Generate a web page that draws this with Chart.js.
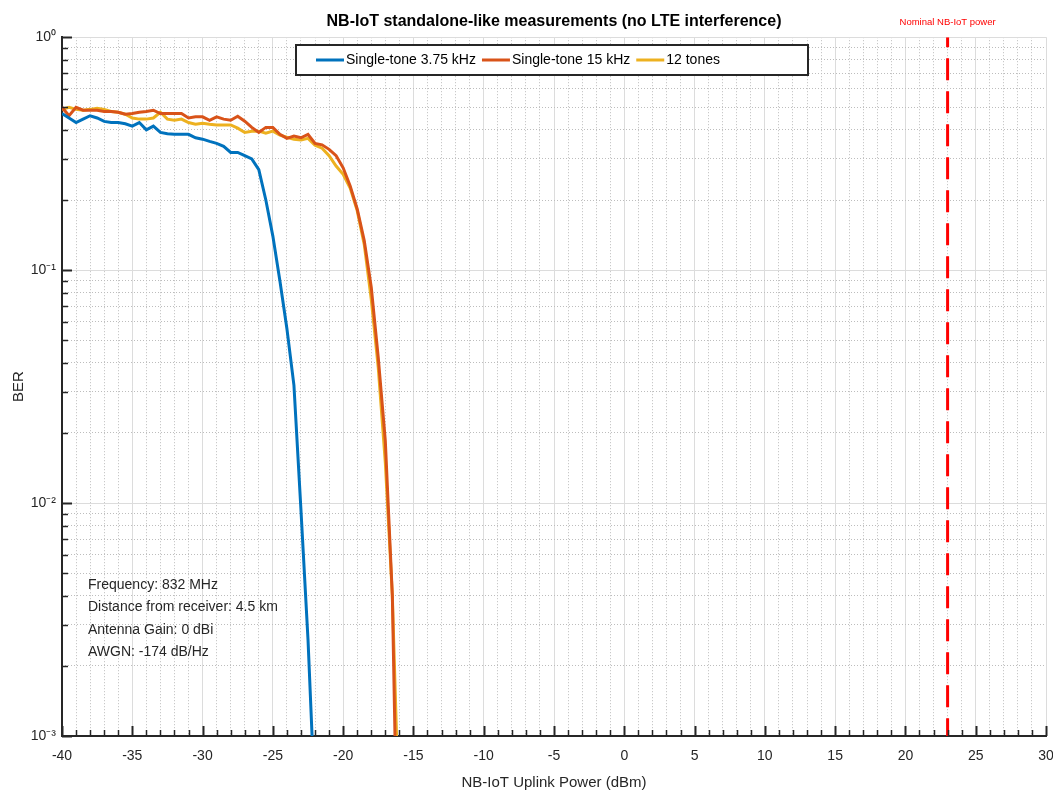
<!DOCTYPE html>
<html><head><meta charset="utf-8">
<script src="https://cdn.jsdelivr.net/npm/chart.js@4/dist/chart.umd.min.js"></script>
<style>html,body{margin:0;padding:0;background:#fff}</style>
</head><body>
<canvas id="c" width="1053" height="792"></canvas>
<script>
// ---- data ----
const titleText = 'NB-IoT standalone-like measurements (no LTE interference)';
const xTitle = 'NB-IoT Uplink Power (dBm)';
const yTitle = 'BER';
const seriesNames = ['Single-tone 3.75 kHz', 'Single-tone 15 kHz', '12 tones'];
const seriesColors = ['#0072BD', '#D95319', '#EDB120'];
const powerDbm = [-40,-39.5,-39,-38.5,-38,-37.5,-37,-36.5,-36,-35.5,-35,-34.5,-34,-33.5,-33,-32.5,-32,-31.5,-31,-30.5,-30,-29.5,-29,-28.5,-28,-27.5,-27,-26.5,-26,-25.5,-25,-24.5,-24,-23.5,-23,-22.5,-22,-21.5,-21,-20.5,-20,-19.5,-19,-18.5,-18,-17.5,-17,-16.5,-16];
const berTone375 = [0.47,0.45,0.43,0.445,0.46,0.45,0.435,0.43,0.43,0.425,0.415,0.43,0.40,0.415,0.39,0.385,0.383,0.383,0.383,0.37,0.365,0.357,0.35,0.34,0.32,0.32,0.31,0.30,0.27,0.20,0.14,0.09,0.056,0.032,0.0093,0.0026,0.0005,null,null,null,null,null,null,null,null,null,null,null,null];
const berTone15 = [0.50,0.46,0.50,0.486,0.486,0.486,0.48,0.48,0.476,0.467,0.47,0.476,0.48,0.486,0.47,0.47,0.47,0.47,0.45,0.455,0.455,0.44,0.455,0.445,0.44,0.458,0.436,0.41,0.39,0.41,0.41,0.383,0.368,0.376,0.37,0.383,0.35,0.345,0.33,0.31,0.275,0.23,0.183,0.134,0.0845,0.042,0.0185,0.004,0.0001];
const ber12Tones = [0.49,0.50,0.49,0.486,0.49,0.495,0.49,0.48,0.476,0.467,0.45,0.445,0.445,0.45,0.476,0.445,0.44,0.445,0.43,0.423,0.427,0.423,0.42,0.42,0.42,0.407,0.39,0.395,0.395,0.387,0.395,0.38,0.372,0.365,0.362,0.368,0.344,0.334,0.31,0.28,0.258,0.225,0.18,0.129,0.075,0.038,0.0149,0.004,0.0004];
const nominalPowerDbm = 23;
const nominalLabel = 'Nominal NB-IoT power';
const xMajorStep = 5, xMinorStep = 1;
const yMajorTicks = [0.001, 0.01, 0.1, 1];
const yTickLabels = ['10\u207B\u00B3', '10\u207B\u00B2', '10\u207B\u00B9', '10\u2070'];
const yMinorTicks = [0.002,0.003,0.004,0.005,0.006,0.007,0.008,0.009,0.02,0.03,0.04,0.05,0.06,0.07,0.08,0.09,0.2,0.3,0.4,0.5,0.6,0.7,0.8,0.9];
const infoLines = ['Frequency: 832 MHz', 'Distance from receiver: 4.5 km', 'Antenna Gain: 0 dBi', 'AWGN: -174 dB/Hz'];

// ---- chart ----
const FONT = "'Liberation Sans',Arial,sans-serif";
const TXT = '#262626';
const pts = vals => powerDbm.map((x, i) => ({x, y: vals[i]}));
const seriesData = [berTone375, berTone15, ber12Tones];

const decor = {
  id: 'decor',
  afterDraw(chart) {
    const c = chart.ctx, ca = chart.chartArea;
    const xs = chart.scales.x, ys = chart.scales.y;
    c.save();
    // inward tick marks
    c.strokeStyle = TXT;
    for (let v = xs.min; v <= xs.max + 1e-9; v += xMinorStep) {
      const px = Math.round(xs.getPixelForValue(v)) + 0.5;
      const major = Math.abs(v % xMajorStep) < 1e-9;
      c.lineWidth = major ? 2 : 1.5;
      c.beginPath(); c.moveTo(px, ca.bottom); c.lineTo(px, ca.bottom - (major ? 10 : 6)); c.stroke();
    }
    yMajorTicks.concat(yMinorTicks).forEach(v => {
      const py = Math.round(ys.getPixelForValue(v)) + 0.5;
      const major = yMajorTicks.includes(v);
      c.lineWidth = major ? 2 : 1.5;
      c.beginPath(); c.moveTo(ca.left, py); c.lineTo(ca.left + (major ? 10 : 6), py); c.stroke();
    });
    // nominal label
    c.fillStyle = '#FF0000';
    c.font = '9.5px ' + FONT;
    c.textAlign = 'center'; c.textBaseline = 'middle';
    c.fillText(nominalLabel, xs.getPixelForValue(nominalPowerDbm), 22);
    // info text
    c.fillStyle = TXT;
    c.font = '14px ' + FONT;
    c.textAlign = 'left';
    infoLines.forEach((t, i) => c.fillText(t, 88, 585 + i * 22.5));
    // legend
    const bx = 296, by = 45, bw = 512, bh = 30;
    c.fillStyle = '#fff'; c.fillRect(bx, by, bw, bh);
    c.strokeStyle = '#262626'; c.lineWidth = 2; c.strokeRect(bx, by, bw, bh);
    let lx = 316; const ly = by + bh / 2;
    seriesNames.forEach((name, i) => {
      c.strokeStyle = seriesColors[i]; c.lineWidth = 3;
      c.beginPath(); c.moveTo(lx, ly); c.lineTo(lx + 28, ly); c.stroke();
      c.fillStyle = '#000';
      c.fillText(name, lx + 30, ly);
      lx += 30 + c.measureText(name).width + 6;
    });
    c.restore();
  }
};

new Chart(document.getElementById('c'), {
  type: 'line',
  data: {
    datasets: seriesData.map((vals, i) => ({
      label: seriesNames[i], data: pts(vals), borderColor: seriesColors[i],
      borderWidth: 3, pointRadius: 0, tension: 0, spanGaps: false
    })).concat([{
      label: nominalLabel,
      data: [{x: nominalPowerDbm, y: yMajorTicks[yMajorTicks.length - 1]}, {x: nominalPowerDbm, y: yMajorTicks[0]}],
      borderColor: '#FF0000', borderWidth: 3, borderDash: [22, 11], borderDashOffset: 12, pointRadius: 0
    }])
  },
  options: {
    responsive: false, animation: false, devicePixelRatio: 1,
    layout: {padding: {left: 0, right: 7, top: 0, bottom: 0}},
    plugins: {
      legend: {display: false}, tooltip: {enabled: false},
      title: {display: true, text: titleText, fullSize: false, color: '#000',
        font: {family: FONT, size: 16, weight: 'bold'}, padding: {top: 12, bottom: 6}}
    },
    scales: {
      x: {type: 'linear', position: 'bottom', min: -40, max: 30,
        ticks: {stepSize: xMajorStep, color: TXT, padding: 12, maxRotation: 0, autoSkip: false, font: {family: FONT, size: 14}},
        grid: {color: '#dcdcdc', lineWidth: 1, drawTicks: false},
        border: {display: true, color: TXT, width: 2},
        title: {display: true, text: xTitle, color: TXT, font: {family: FONT, size: 15}, padding: {top: 2, bottom: 0}},
        afterFit(s) { s.height = 56; s.paddingLeft = 0; s.paddingRight = 0; }
      },
      x2: {type: 'linear', position: 'bottom', min: -40, max: 30,
        ticks: {display: false, stepSize: xMinorStep},
        grid: {drawTicks: false, lineWidth: 1, color: ctx => (ctx.tick && Math.abs(ctx.tick.value % xMajorStep) < 1e-9) ? 'rgba(0,0,0,0)' : '#bdbdbd'},
        border: {display: false, dash: [1, 2]},
        afterFit(s) { s.paddingLeft = 0; s.paddingRight = 0; }
      },
      y: {type: 'logarithmic', position: 'left', min: 0.001, max: 1,
        afterBuildTicks(s) { s.ticks = yMajorTicks.map(v => ({value: v, major: true})); },
        ticks: {color: TXT, padding: 6, font: {family: FONT, size: 14},
          callback: v => { const i = yMajorTicks.indexOf(v); return i >= 0 ? yTickLabels[i] : ''; }},
        grid: {color: '#dcdcdc', lineWidth: 1, drawTicks: false},
        border: {display: true, color: TXT, width: 2},
        title: {display: true, text: yTitle, color: TXT, font: {family: FONT, size: 15}, padding: {top: 10, bottom: 0}},
        afterFit(s) { s.width = 62; }
      },
      y2: {type: 'logarithmic', position: 'left', min: 0.001, max: 1,
        afterBuildTicks(s) { s.ticks = yMinorTicks.map(v => ({value: v})); },
        ticks: {display: false},
        grid: {drawTicks: false, lineWidth: 1, color: '#bdbdbd'},
        border: {display: false, dash: [1, 2]}
      }
    }
  },
  plugins: [decor]
});
</script>
</body></html>
